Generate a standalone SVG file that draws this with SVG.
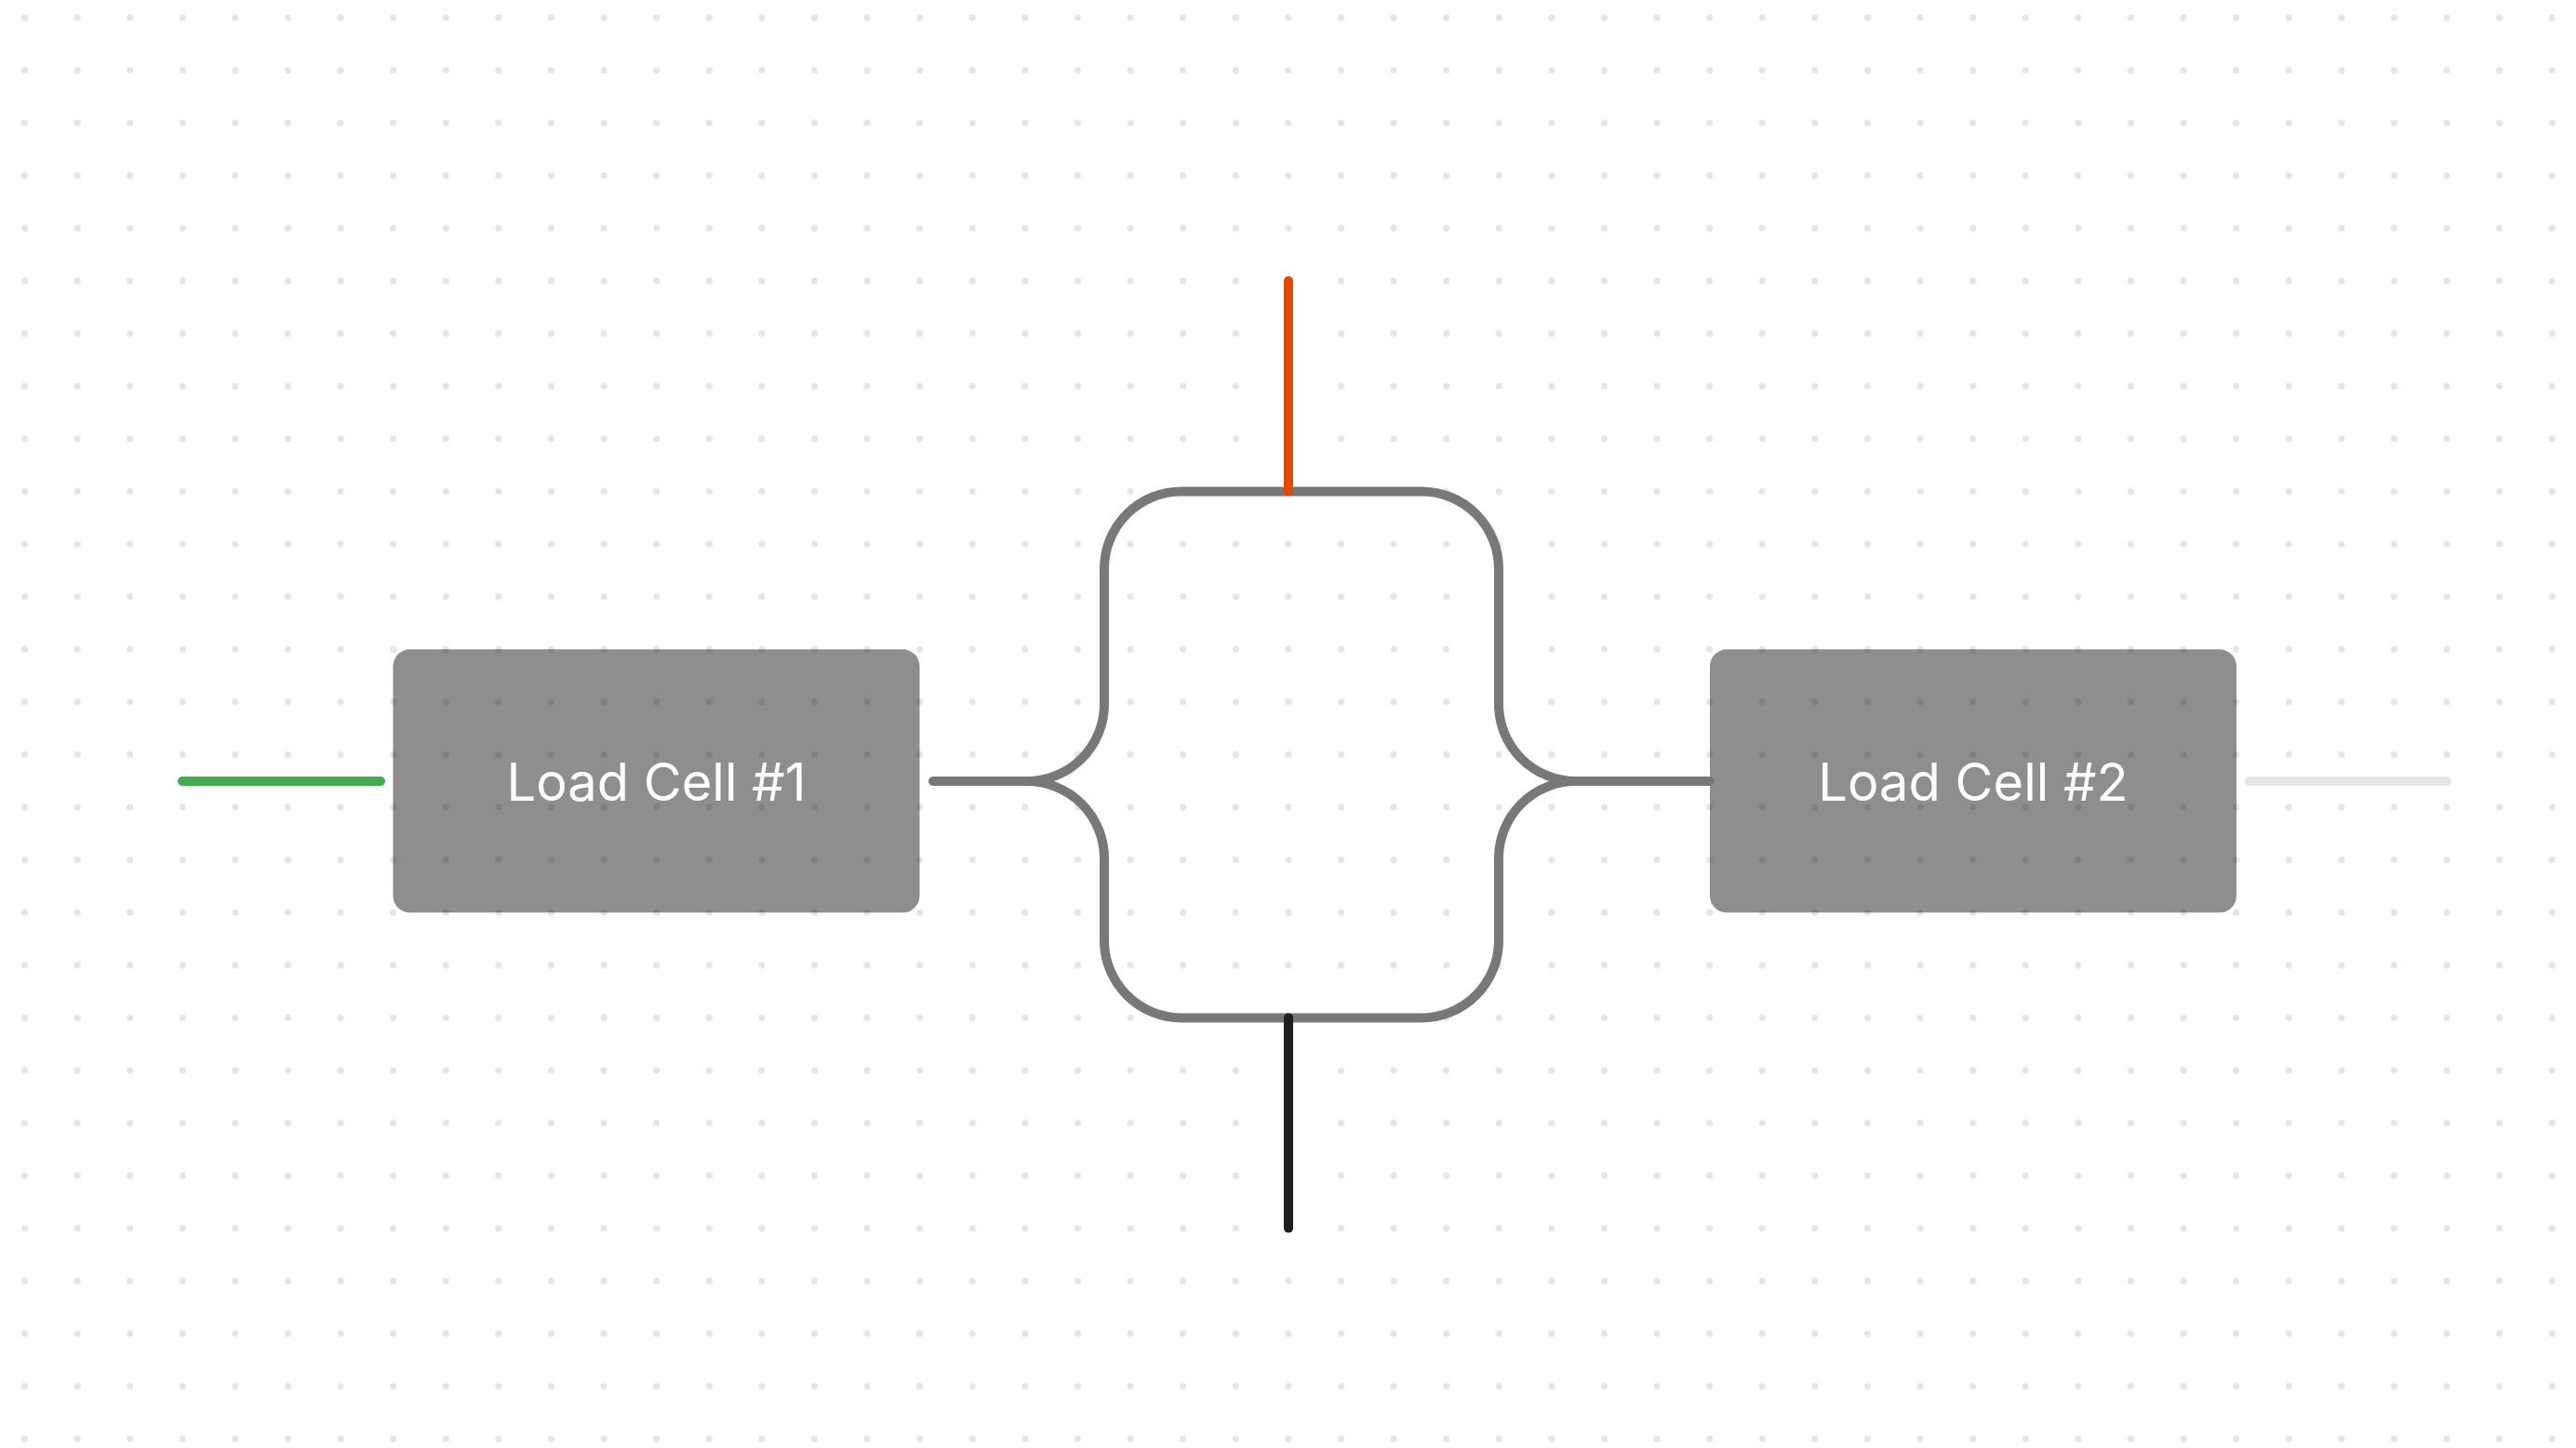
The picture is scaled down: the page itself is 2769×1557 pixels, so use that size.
<svg xmlns="http://www.w3.org/2000/svg" width="2769" height="1557" viewBox="0 0 2769 1557">
  <style>
    .node-box { fill: #000000; fill-opacity: 0.443; }
    .node-label { font-family: Inter, "Noto Sans", "Liberation Sans", sans-serif; font-size: 56px; fill: #ffffff; text-anchor: middle; }
    .wire { fill: none; stroke-width: 10; stroke-linecap: round; stroke-linejoin: round; }
    .gray { stroke: #787878; }
  </style>
  <defs>
    <pattern id="dots" patternUnits="userSpaceOnUse" x="0" y="0" width="56.6" height="56.6">
      <circle cx="26.5" cy="19" r="3.5" fill="#e5e5e5"/>
    </pattern>
  </defs>
  <rect x="0" y="0" width="2769" height="1557" fill="#ffffff"/>
  <rect x="0" y="0" width="2769" height="1557" fill="url(#dots)"/>

  <g id="load-cell-1">
    <rect class="node-box" x="422.5" y="698.3" width="566" height="283" rx="18"/>
    <text class="node-label" x="705.5" y="861">Load Cell #1</text>
  </g>
  <g id="load-cell-2">
    <rect class="node-box" x="1838" y="698.3" width="566" height="283" rx="18"/>
    <text class="node-label" x="2121" y="861">Load Cell #2</text>
  </g>

  <g id="connectors">
    <path class="wire" stroke="#41ad4f" d="M196 840 H409"/>
    <path class="wire" stroke="#e5e5e5" d="M2418 840 H2630"/>
    <path class="wire gray" d="M1003 840 H1104"/>
    <path class="wire gray" d="M1694 840 H1838"/>
    <path class="wire gray" d="M1104 840 A83 83 0 0 0 1187 757 V611.4 A83 83 0 0 1 1270 528.4 H1528 A83 83 0 0 1 1611 611.4 V757 A83 83 0 0 0 1694 840 A83 83 0 0 0 1611 923 V1011.4 A83 83 0 0 1 1528 1094.4 H1270 A83 83 0 0 1 1187 1011.4 V923 A83 83 0 0 0 1104 840 Z"/>
    <path class="wire" stroke="#e24a00" d="M1385 302 V528.4"/>
    <path class="wire" stroke="#1e1e1e" d="M1385 1094.4 V1320.6"/>
  </g>
</svg>
